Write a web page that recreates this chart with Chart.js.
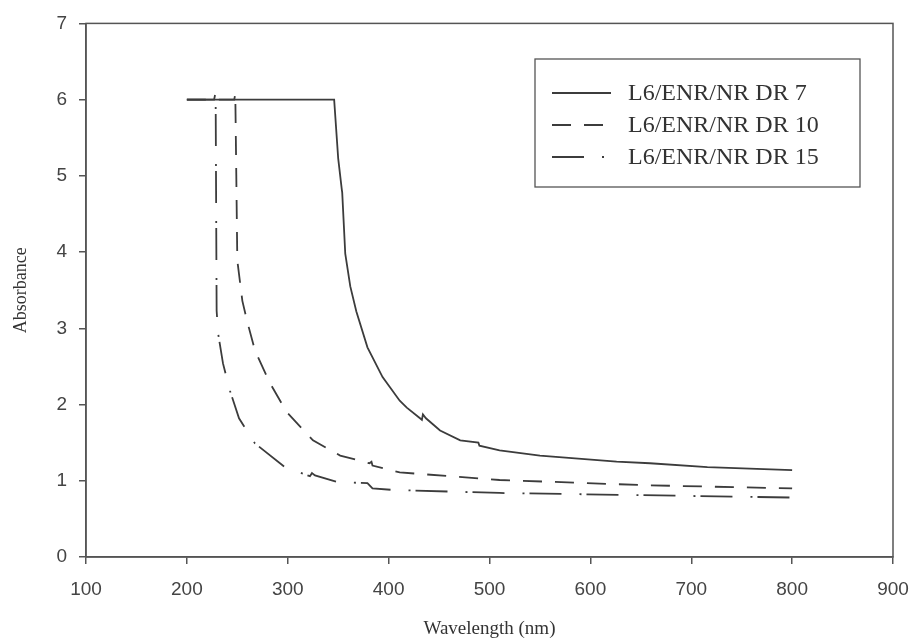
<html>
<head>
<title>Absorbance spectra</title>
<script src="https://cdn.jsdelivr.net/npm/chart.js@4.4.1/dist/chart.umd.min.js"></script>
<style>
  body { margin: 0; background: #ffffff; }
  #wrap { width: 915px; height: 644px; }
</style>
</head>
<body>
<div id="wrap"><canvas id="uv"></canvas></div>
<script>
// wavelength (nm) / absorbance for each sample
var dr7X  = [200, 346, 350, 353.5, 354, 357, 362, 368, 379, 394, 411, 418, 433, 434, 437, 451, 471, 489, 490, 510, 550, 626, 659, 716, 800];
var dr7Y  = [6.0, 6.0, 5.23, 4.83, 4.78, 3.98, 3.55, 3.22, 2.75, 2.36, 2.05, 1.96, 1.80, 1.87, 1.82, 1.66, 1.53, 1.50, 1.46, 1.40, 1.33, 1.25, 1.23, 1.18, 1.14];

var dr10X = [200, 247, 248, 249, 250, 255, 259.6, 267.5, 282, 299, 325, 352, 381, 383, 384, 411, 510, 659, 800];
var dr10Y = [6.0, 6.0, 6.08, 5.0, 3.89, 3.36, 3.10, 2.71, 2.29, 1.90, 1.53, 1.33, 1.23, 1.25, 1.20, 1.11, 1.01, 0.94, 0.90];

var dr15X = [200, 227, 228.5, 229.5, 231, 235.8, 242.7, 251.7, 267.5, 297, 322, 324, 327, 350, 379, 384, 404, 510, 800];
var dr15Y = [6.0, 6.0, 6.1, 3.23, 2.93, 2.54, 2.18, 1.82, 1.49, 1.18, 1.06, 1.10, 1.07, 0.98, 0.97, 0.90, 0.88, 0.84, 0.78];

var seriesNames = ['L6/ENR/NR DR 7', 'L6/ENR/NR DR 10', 'L6/ENR/NR DR 15'];
var xTicks = [100, 200, 300, 400, 500, 600, 700, 800, 900];
var yTicks = [0, 1, 2, 3, 4, 5, 6, 7];

function pts(xs, ys) {
  var out = [];
  for (var i = 0; i < xs.length; i++) out.push({x: xs[i], y: ys[i]});
  return out;
}

var ink = '#3c3c3c';

// box round the plot + legend box in the upper right
var framePlugin = {
  id: 'frame',
  afterDatasetsDraw: function(chart) {
    var c = chart.ctx, a = chart.chartArea;
    c.save();
    c.strokeStyle = '#555';
    c.lineWidth = 1.5;
    c.strokeRect(a.left, a.top, a.right - a.left, a.bottom - a.top);

    // legend
    c.lineWidth = 1.3;
    c.strokeRect(535, 59, 325, 128);
    c.font = '24px "Liberation Serif", "Times New Roman", serif';
    c.fillStyle = '#333';
    c.textBaseline = 'middle';
    chart.data.datasets.forEach(function(ds, i) {
      var y = 93 + i * 32;
      c.beginPath();
      c.strokeStyle = ink;
      c.lineWidth = 1.8;
      c.setLineDash(ds.borderDash || []);
      c.moveTo(552, y);
      c.lineTo(i == 2 ? 606 : 611, y);
      c.stroke();
      c.setLineDash([]);
      c.fillText(ds.label, 628, y + 1);
    });
    c.restore();
  }
};

new Chart(document.getElementById('uv'), {
  type: 'line',
  data: {
    datasets: [
      { label: seriesNames[0], data: pts(dr7X, dr7Y), borderColor: ink, borderWidth: 1.8, pointRadius: 0, tension: 0 },
      { label: seriesNames[1], data: pts(dr10X, dr10Y), borderColor: ink, borderWidth: 1.8, pointRadius: 0, tension: 0, borderDash: [19, 13] },
      { label: seriesNames[2], data: pts(dr15X, dr15Y), borderColor: ink, borderWidth: 1.8, pointRadius: 0, tension: 0, borderDash: [32, 18, 2, 5] }
    ]
  },
  options: {
    responsive: true,
    maintainAspectRatio: false,
    animation: false,
    layout: { padding: { top: 22, right: 22, left: 0, bottom: 0 } },
    plugins: { legend: { display: false }, tooltip: { enabled: false } },
    scales: {
      x: {
        type: 'linear',
        min: 100, max: 900,
        // the "900" label is allowed to run up to the page edge
        afterFit: function(s) { s.height = 87; s.paddingLeft = 0; s.paddingRight = 0; },
        afterBuildTicks: function(s) { s.ticks = xTicks.map(function(v) { return {value: v}; }); },
        grid: { drawOnChartArea: false, tickLength: 7, color: '#555', lineWidth: 1.5 },
        border: { color: '#555', width: 1.5 },
        ticks: { color: '#444', padding: 14, font: { family: '"Liberation Sans", Arial, sans-serif', size: 19 } },
        title: { display: true, text: 'Wavelength (nm)', color: '#333', padding: { top: 4, bottom: 4 },
                 font: { family: '"Liberation Serif", "Times New Roman", serif', size: 19 } }
      },
      y: {
        min: 0, max: 7,
        afterFit: function(s) { s.width = 86; },
        afterBuildTicks: function(s) { s.ticks = yTicks.map(function(v) { return {value: v}; }); },
        grid: { drawOnChartArea: false, tickLength: 7, color: '#555', lineWidth: 1.5 },
        border: { color: '#555', width: 1.5 },
        ticks: { color: '#444', padding: 12, font: { family: '"Liberation Sans", Arial, sans-serif', size: 19 } },
        title: { display: true, text: 'Absorbance', color: '#333', padding: { top: 10, bottom: 10 },
                 font: { family: '"Liberation Serif", "Times New Roman", serif', size: 18 } }
      }
    }
  },
  plugins: [framePlugin]
});
</script>
</body>
</html>
